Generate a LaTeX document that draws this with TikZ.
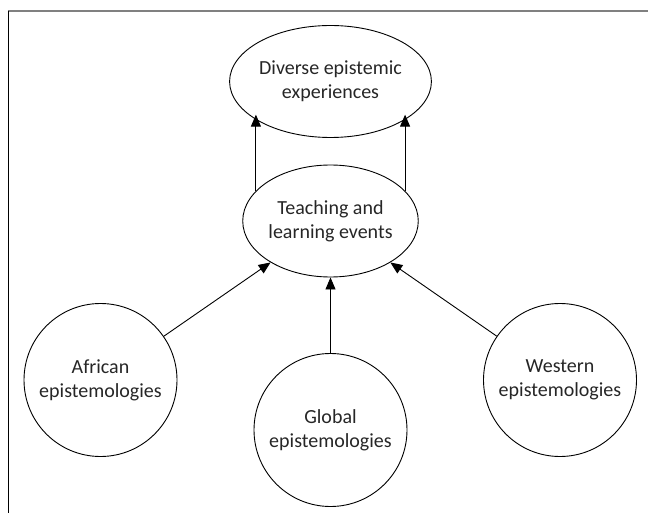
\documentclass[tikz,border=0pt]{standalone}
\usepackage{fontspec}
\setmainfont{Carlito}
\usetikzlibrary{shapes.geometric,arrows.meta}
\definecolor{txtgray}{HTML}{262626}
\definecolor{framegray}{HTML}{808080}
\begin{document}
\begin{tikzpicture}[x=1pt, y=-1pt,
    oval/.style = {ellipse, draw, line width=0.9pt, minimum width=167pt, minimum height=112pt, inner sep=0pt},
    ball/.style = {circle, draw, line width=0.9pt, minimum size=153pt, inner sep=0pt},
    lbl/.style = {align=center, text=txtgray, font=\fontsize{20}{24}\selectfont},
    arr/.style = {-{Triangle[length=12pt, width=10pt]}, line width=0.9pt}]
    \useasboundingbox (0,0) rectangle (648,513);

    % Draw the frame
    \draw[framegray, line width=1.6pt] (8,11) -- (648,11);
    \draw[line width=0.8pt] (8,11) -- (8,513);

    % Draw the ovals
    \node[oval, lbl] (divr) at (330.5,81.5) {Diverse epistemic\\experiences};
    \node[oval, lbl] (teach) at (330.5,221) {Teaching and\\learning events};

    % Draw the circles
    \node[ball, lbl] (afr) at (100.5,380) {African\\epistemologies};
    \node[ball, lbl] (glob) at (330.5,430) {Global\\epistemologies};
    \node[ball, lbl] (west) at (560,380) {Western\\epistemologies};

    % Draw the arrows
    \draw[arr] (teach.158) -- (teach.158 |- divr.202);
    \draw[arr] (teach.22) -- (teach.22 |- divr.338);
    \draw[arr] (afr) -- (teach);
    \draw[arr] (glob) -- (teach);
    \draw[arr] (west) -- (teach);

\end{tikzpicture}
\end{document}
